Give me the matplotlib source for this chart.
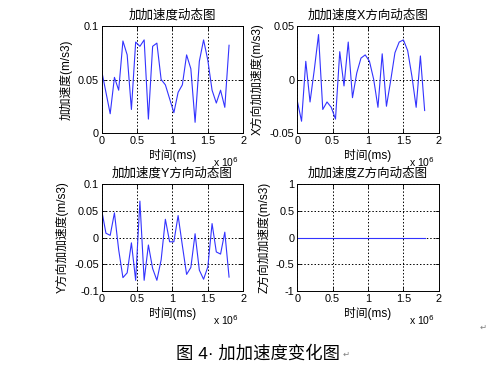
import numpy as np
import matplotlib
matplotlib.use('Agg')
from matplotlib import pyplot as plt
from matplotlib.ticker import FuncFormatter

plt.rcParams['font.family'] = ['Liberation Sans', 'Noto Sans CJK SC', 'DejaVu Sans']

# time axis (ms), one sample every 0.06e6
t = np.arange(31) * 0.06e6

jerk = [0.058, 0.038, 0.018, 0.052, 0.040, 0.086, 0.073, 0.022, 0.085, 0.081,
        0.087, 0.013, 0.081, 0.084, 0.050, 0.045, 0.032, 0.019, 0.038, 0.045,
        0.073, 0.060, 0.010, 0.067, 0.087, 0.068, 0.040, 0.028, 0.040, 0.024,
        0.082]
jerk_x = [-0.020, -0.039, 0.017, -0.021, 0.009, 0.042, -0.028, -0.021, -0.026, -0.037,
          0.026, -0.006, 0.035, -0.017, 0.006, 0.020, 0.023, 0.017, 0.000, -0.026,
          0.024, -0.025, -0.001, 0.025, 0.035, 0.037, 0.027, 0.003, -0.026, 0.022,
          -0.029]
jerk_y = [0.051, 0.008, 0.004, 0.046, -0.023, -0.075, -0.066, -0.010, -0.080, 0.068,
          -0.080, -0.014, -0.058, -0.080, -0.042, 0.034, -0.008, -0.008, 0.041, -0.015,
          -0.069, -0.056, 0.007, -0.061, -0.078, -0.055, 0.026, -0.027, -0.031, 0.010,
          -0.074]
jerk_z = [0.0] * 31

titles = ['加加速度动态图', '加加速度X方向动态图', '加加速度Y方向动态图', '加加速度Z方向动态图']
ylabels = ['加加速度(m/s3)', 'X方向加加速度(m/s3)', 'Y方向加加速度(m/s3)', 'Z方向加加速度(m/s3)']
yticks = [[0, 0.05, 0.1], [-0.05, 0, 0.05], [-0.1, -0.05, 0, 0.05, 0.1], [-1, -0.5, 0, 0.5, 1]]
series = [jerk, jerk_x, jerk_y, jerk_z]

fig = plt.figure(figsize=(4.87, 3.85), dpi=100)
W, H = 487.0, 385.0
boxes = [(101.7, 26), (297.3, 26), (101.7, 184), (297.3, 184)]

for i in range(4):
    x0, y0 = boxes[i]
    ax = fig.add_axes([x0 / W, 1 - (y0 + 107) / H, 141.5 / W, 107 / H])
    ax.plot(t, series[i], color='#3333ff', lw=0.8)
    ax.set_xlim(0, 2e6)
    ax.set_ylim(yticks[i][0], yticks[i][-1])
    ax.set_xticks([0, 0.5e6, 1e6, 1.5e6, 2e6])
    ax.set_yticks(yticks[i])
    ax.xaxis.set_major_formatter(FuncFormatter(lambda v, p: '%g' % (v / 1e6)))
    ax.yaxis.set_major_formatter(FuncFormatter(lambda v, p: '%g' % v))
    ax.grid(True, color='black', linestyle=(0, (1.5, 2)), lw=0.7)
    ax.tick_params(direction='in', length=3, width=0.6, labelsize=7.8, pad=2,
                   top=True, right=True)
    for s in ax.spines.values():
        s.set_linewidth(0.7)
    ax.set_title(titles[i], fontsize=9, pad=5)
    ax.set_xlabel('时间(ms)', fontsize=8.5, labelpad=2)
    ax.set_ylabel(ylabels[i], fontsize=8.5, labelpad=4)
    ax.text(0.97, -0.27, 'x 10$^{6}$', transform=ax.transAxes, ha='right',
            va='center', fontsize=7.5)

fig.text(258 / W, 1 - 353 / H, '图 4· 加加速度变化图', fontsize=12.5,
         ha='center', va='center')
fig.text(343 / W, 1 - 354 / H, '↵', fontsize=6, color='gray', ha='left', va='center',
         family=['DejaVu Sans'])
fig.text(483 / W, 1 - 327 / H, '↵', fontsize=6, color='gray', ha='center', va='center',
         family=['DejaVu Sans'])

fig.savefig('out.png', dpi=100)
